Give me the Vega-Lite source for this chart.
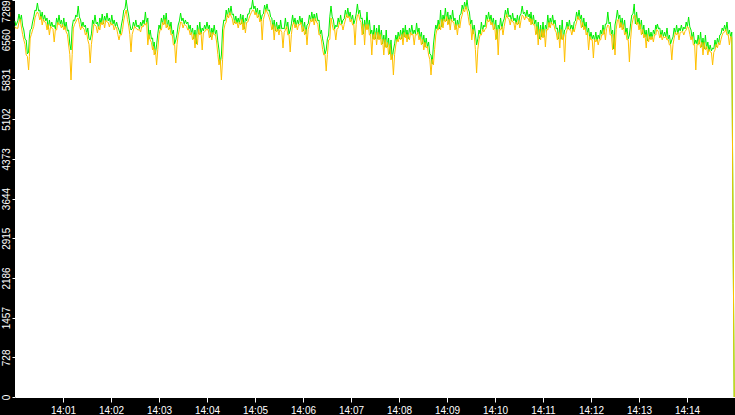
{
  "$schema": "https://vega.github.io/schema/vega-lite/v6.json",
  "width": 720,
  "height": 397,
  "autosize": {"type": "none"},
  "padding": {"left": 15, "top": 0, "right": 0, "bottom": 18},
  "background": "black",
  "config": {
    "view": {"fill": "white", "stroke": null},
    "axis": {
      "grid": false,
      "title": null,
      "labelColor": "white",
      "tickColor": "white",
      "domainColor": "white",
      "labelFont": "Liberation Sans",
      "labelFontSize": 10
    }
  },
  "data": {
    "values": [
      {"s":0,"g":6900,"o":6800},{"s":1,"g":6820,"o":6768},
      {"s":2,"g":6848,"o":6775},{"s":3.5,"g":6905,"o":6768},
      {"s":5,"g":7032,"o":6885},{"s":6.5,"g":6905,"o":6934},
      {"s":8,"g":7014,"o":6793},{"s":9.5,"g":6813,"o":6658},
      {"s":11,"g":6738,"o":6555},{"s":12.5,"g":6575,"o":6475},
      {"s":14,"g":6555,"o":6279},{"s":15.5,"g":6299,"o":6254},
      {"s":17,"g":6334,"o":6004},{"s":18,"g":6611,"o":6254},
      {"s":19,"g":6738,"o":6591},{"s":20.5,"g":6758,"o":6658},
      {"s":22,"g":6885,"o":6738},{"s":23.5,"g":6979,"o":6805},
      {"s":25,"g":7105,"o":6959},{"s":26.5,"g":7089,"o":7025},
      {"s":28,"g":7234,"o":7069},{"s":29.5,"g":7089,"o":7025},
      {"s":31,"g":7105,"o":6922},{"s":32.5,"g":6942,"o":6989},
      {"s":34,"g":7069,"o":6830},{"s":35.5,"g":6905,"o":6934},
      {"s":37,"g":7014,"o":6885},{"s":38.5,"g":6905,"o":6879},
      {"s":40,"g":6959,"o":6738},{"s":41.5,"g":6758,"o":6842},
      {"s":43,"g":6922,"o":6646},{"s":44.5,"g":6795,"o":6805},
      {"s":46,"g":6885,"o":6775},{"s":47.5,"g":6795,"o":6750},
      {"s":49,"g":6830,"o":6518},{"s":50.5,"g":6758,"o":6750},
      {"s":52,"g":6959,"o":6738},{"s":53.5,"g":6850,"o":6879},
      {"s":55,"g":7014,"o":6830},{"s":56.5,"g":6850,"o":6842},
      {"s":58,"g":6922,"o":6775},{"s":59.5,"g":6795,"o":6842},
      {"s":61,"g":6959,"o":6738},{"s":62.5,"g":6758,"o":6805},
      {"s":64,"g":6885,"o":6701},{"s":65.5,"g":6721,"o":6658},
      {"s":67,"g":6738,"o":6463},{"s":68.5,"g":6483,"o":6291},
      {"s":70,"g":6371,"o":5820},{"s":71.5,"g":6795,"o":6291},
      {"s":73,"g":6922,"o":6775},{"s":74.5,"g":6905,"o":6842},
      {"s":76,"g":7014,"o":6885},{"s":77.5,"g":6979,"o":6934},
      {"s":79,"g":7179,"o":6959},{"s":80.5,"g":6979,"o":6842},
      {"s":82,"g":6922,"o":6738},{"s":83.5,"g":6795,"o":6805},
      {"s":85,"g":6885,"o":6775},{"s":86.5,"g":6795,"o":6750},
      {"s":88,"g":6830,"o":6646},{"s":89.5,"g":6666,"o":6695},
      {"s":91,"g":6775,"o":6555},{"s":92.5,"g":6575,"o":6475},
      {"s":94,"g":6555,"o":6132},{"s":95.5,"g":6666,"o":6475},
      {"s":97,"g":6922,"o":6646},{"s":98.5,"g":6850,"o":6842},
      {"s":100,"g":7014,"o":6830},{"s":101.5,"g":6850,"o":6805},
      {"s":103,"g":6885,"o":6683},{"s":104.5,"g":6758,"o":6805},
      {"s":106,"g":6959,"o":6738},{"s":107.5,"g":6850,"o":6879},
      {"s":109,"g":7032,"o":6830},{"s":110.5,"g":6850,"o":6915},
      {"s":112,"g":6995,"o":6775},{"s":113.5,"g":6905,"o":6915},
      {"s":115,"g":7050,"o":6885},{"s":116.5,"g":6905,"o":6879},
      {"s":118,"g":6959,"o":6793},{"s":119.5,"g":6850,"o":6879},
      {"s":121,"g":7014,"o":6830},{"s":122.5,"g":6850,"o":6842},
      {"s":124,"g":6922,"o":6738},{"s":125.5,"g":6795,"o":6805},
      {"s":127,"g":6885,"o":6775},{"s":128.5,"g":6795,"o":6658},
      {"s":130,"g":6738,"o":6555},{"s":131.5,"g":6666,"o":6658},
      {"s":133,"g":6830,"o":6646},{"s":134.5,"g":6942,"o":6750},
      {"s":136,"g":7105,"o":6922},{"s":137.5,"g":7125,"o":7025},
      {"s":139,"g":7289,"o":7105},{"s":140.5,"g":7125,"o":6934},
      {"s":142,"g":7014,"o":6830},{"s":143.5,"g":6850,"o":6658},
      {"s":145,"g":6738,"o":6334},{"s":146.5,"g":6758,"o":6658},
      {"s":148,"g":6885,"o":6738},{"s":149.5,"g":6795,"o":6805},
      {"s":151,"g":6922,"o":6775},{"s":152.5,"g":6795,"o":6750},
      {"s":154,"g":6830,"o":6738},{"s":155.5,"g":6758,"o":6750},
      {"s":157,"g":6885,"o":6701},{"s":158.5,"g":6813,"o":6805},
      {"s":160,"g":6922,"o":6793},{"s":161.5,"g":6850,"o":6842},
      {"s":163,"g":7069,"o":6830},{"s":164.5,"g":6850,"o":6879},
      {"s":166,"g":6959,"o":6463},{"s":167.5,"g":6575,"o":6658},
      {"s":169,"g":6738,"o":6555},{"s":170.5,"g":6575,"o":6511},
      {"s":172,"g":6591,"o":6371},{"s":173,"g":6391,"o":6438},
      {"s":174,"g":6518,"o":6279},{"s":175.5,"g":6299,"o":6383},
      {"s":177,"g":6463,"o":6096},{"s":178.5,"g":6666,"o":6383},
      {"s":180,"g":6830,"o":6646},{"s":181.5,"g":6758,"o":6750},
      {"s":183,"g":6959,"o":6738},{"s":184.5,"g":6850,"o":6879},
      {"s":186,"g":7014,"o":6830},{"s":187.5,"g":6850,"o":6934},
      {"s":189,"g":7050,"o":6775},{"s":190.5,"g":6795,"o":6842},
      {"s":192,"g":6922,"o":6738},{"s":193.5,"g":6758,"o":6805},
      {"s":195,"g":6885,"o":6646},{"s":196.5,"g":6666,"o":6658},
      {"s":198,"g":6738,"o":6463},{"s":199.5,"g":6483,"o":6475},
      {"s":201,"g":6555,"o":6132},{"s":202.5,"g":6666,"o":6475},
      {"s":204,"g":6830,"o":6646},{"s":205.5,"g":6905,"o":6750},
      {"s":207,"g":7050,"o":6885},{"s":208.5,"g":6905,"o":6879},
      {"s":210,"g":6959,"o":6775},{"s":211.5,"g":6850,"o":6842},
      {"s":213,"g":6922,"o":6830},{"s":214.5,"g":6850,"o":6805},
      {"s":216,"g":6885,"o":6738},{"s":217.5,"g":6758,"o":6750},
      {"s":219,"g":6830,"o":6646},{"s":220.5,"g":6666,"o":6695},
      {"s":222,"g":6775,"o":6555},{"s":223.5,"g":6575,"o":6658},
      {"s":225,"g":6738,"o":6408},{"s":226.5,"g":6483,"o":6658},
      {"s":228,"g":6830,"o":6463},{"s":229.5,"g":6666,"o":6750},
      {"s":231,"g":6885,"o":6646},{"s":232.5,"g":6666,"o":6695},
      {"s":234,"g":6775,"o":6371},{"s":235.5,"g":6721,"o":6695},
      {"s":237,"g":6830,"o":6701},{"s":238.5,"g":6758,"o":6750},
      {"s":240,"g":6885,"o":6738},{"s":241.5,"g":6758,"o":6750},
      {"s":243,"g":6830,"o":6591},{"s":244.5,"g":6611,"o":6695},
      {"s":246,"g":6775,"o":6555},{"s":247.5,"g":6666,"o":6695},
      {"s":249,"g":6830,"o":6646},{"s":250.5,"g":6666,"o":6658},
      {"s":252,"g":6738,"o":6518},{"s":253.5,"g":6538,"o":6291},
      {"s":255,"g":6371,"o":6096},{"s":256.5,"g":6116,"o":6199},
      {"s":258,"g":6279,"o":5820},{"s":259.5,"g":6758,"o":6199},
      {"s":261,"g":6922,"o":6738},{"s":262.5,"g":6905,"o":6842},
      {"s":264,"g":7105,"o":6885},{"s":265.5,"g":6979,"o":7025},
      {"s":267,"g":7142,"o":6959},{"s":268.5,"g":7015,"o":7062},
      {"s":270,"g":7179,"o":6995},{"s":271.5,"g":7015,"o":6952},
      {"s":273,"g":7032,"o":6830},{"s":274.5,"g":6868,"o":6915},
      {"s":276,"g":6995,"o":6848},{"s":277.5,"g":6868,"o":6879},
      {"s":279,"g":6959,"o":6775},{"s":280.5,"g":6850,"o":6879},
      {"s":282,"g":7032,"o":6830},{"s":283.5,"g":6850,"o":6934},
      {"s":285,"g":7014,"o":6738},{"s":286.5,"g":6758,"o":6879},
      {"s":288,"g":6959,"o":6683},{"s":289.5,"g":6905,"o":6879},
      {"s":291,"g":7032,"o":6885},{"s":292.5,"g":7034,"o":6952},
      {"s":294,"g":7142,"o":7014},{"s":295.5,"g":7125,"o":7062},
      {"s":297,"g":7289,"o":7105},{"s":298.5,"g":7125,"o":7099},
      {"s":300,"g":7179,"o":7014},{"s":301.5,"g":7034,"o":7062},
      {"s":303,"g":7142,"o":6959},{"s":304.5,"g":6979,"o":7025},
      {"s":306,"g":7105,"o":6885},{"s":307.5,"g":6905,"o":6934},
      {"s":309,"g":7014,"o":6555},{"s":310.5,"g":7034,"o":6934},
      {"s":312,"g":7197,"o":7014},{"s":313.5,"g":7089,"o":7117},
      {"s":315,"g":7216,"o":7069},{"s":316.5,"g":7089,"o":7025},
      {"s":318,"g":7105,"o":6959},{"s":319.5,"g":6979,"o":6879},
      {"s":321,"g":6959,"o":6738},{"s":322.5,"g":6758,"o":6842},
      {"s":324,"g":6922,"o":6555},{"s":325.5,"g":6721,"o":6805},
      {"s":327,"g":6885,"o":6701},{"s":328.5,"g":6721,"o":6750},
      {"s":330,"g":6830,"o":6646},{"s":331,"g":6758,"o":6750},
      {"s":332,"g":6922,"o":6738},{"s":333.5,"g":6758,"o":6695},
      {"s":335,"g":6775,"o":6408},{"s":336.5,"g":6758,"o":6695},
      {"s":338,"g":6959,"o":6738},{"s":339.5,"g":6758,"o":6805},
      {"s":341,"g":6885,"o":6646},{"s":342.5,"g":6666,"o":6658},
      {"s":344,"g":6738,"o":6334},{"s":345.5,"g":6850,"o":6658},
      {"s":347,"g":7014,"o":6830},{"s":348.5,"g":6850,"o":6879},
      {"s":350,"g":6959,"o":6775},{"s":351.5,"g":6795,"o":6842},
      {"s":353,"g":6922,"o":6738},{"s":354.5,"g":6850,"o":6842},
      {"s":356,"g":6995,"o":6830},{"s":357.5,"g":6850,"o":6879},
      {"s":359,"g":6959,"o":6701},{"s":360.5,"g":6721,"o":6805},
      {"s":362,"g":6885,"o":6646},{"s":363.5,"g":6666,"o":6750},
      {"s":365,"g":6830,"o":6463},{"s":366.5,"g":6850,"o":6750},
      {"s":368,"g":7014,"o":6830},{"s":369.5,"g":6905,"o":6934},
      {"s":371,"g":7069,"o":6885},{"s":372.5,"g":6905,"o":6952},
      {"s":374,"g":7032,"o":6830},{"s":375.5,"g":6905,"o":6952},
      {"s":377,"g":7050,"o":6885},{"s":378.5,"g":6905,"o":6842},
      {"s":380,"g":6922,"o":6646},{"s":381.5,"g":6666,"o":6658},
      {"s":383,"g":6738,"o":6555},{"s":384.5,"g":6575,"o":6383},
      {"s":386,"g":6463,"o":6279},{"s":387.5,"g":6299,"o":6291},
      {"s":389,"g":6371,"o":5985},{"s":390.5,"g":6575,"o":6291},
      {"s":392,"g":6646,"o":6555},{"s":393.5,"g":6979,"o":6566},
      {"s":395,"g":7179,"o":6959},{"s":396.5,"g":6979,"o":6842},
      {"s":398,"g":6922,"o":6738},{"s":399.5,"g":6758,"o":6750},
      {"s":401,"g":6830,"o":6555},{"s":402.5,"g":6795,"o":6750},
      {"s":404,"g":6959,"o":6775},{"s":405.5,"g":6850,"o":6879},
      {"s":407,"g":7014,"o":6830},{"s":408.5,"g":6850,"o":6842},
      {"s":410,"g":6922,"o":6738},{"s":411.5,"g":6942,"o":6842},
      {"s":413,"g":7105,"o":6922},{"s":414.5,"g":6979,"o":7025},
      {"s":416,"g":7142,"o":6959},{"s":417.5,"g":6979,"o":6989},
      {"s":419,"g":7069,"o":6885},{"s":420.5,"g":6905,"o":6934},
      {"s":422,"g":7014,"o":6830},{"s":423.5,"g":6850,"o":6842},
      {"s":425,"g":6922,"o":6463},{"s":426.5,"g":7034,"o":6842},
      {"s":428,"g":7216,"o":7014},{"s":429.5,"g":7034,"o":7025},
      {"s":431,"g":7105,"o":6922},{"s":432.5,"g":6942,"o":6879},
      {"s":434,"g":6959,"o":6646},{"s":435.5,"g":6666,"o":6842},
      {"s":437,"g":6922,"o":6463},{"s":438.5,"g":6758,"o":6842},
      {"s":440,"g":7069,"o":6738},{"s":441.5,"g":6758,"o":6842},
      {"s":443,"g":6922,"o":6646},{"s":444.5,"g":6666,"o":6658},
      {"s":446,"g":6738,"o":6279},{"s":447.5,"g":6575,"o":6658},
      {"s":449,"g":6830,"o":6555},{"s":450.5,"g":6575,"o":6695},
      {"s":452,"g":6775,"o":6463},{"s":453.5,"g":6575,"o":6695},
      {"s":455,"g":6830,"o":6555},{"s":456.5,"g":6575,"o":6658},
      {"s":458,"g":6738,"o":6463},{"s":459.5,"g":6483,"o":6566},
      {"s":461,"g":6646,"o":6279},{"s":462.5,"g":6428,"o":6566},
      {"s":464,"g":6738,"o":6408},{"s":465.5,"g":6428,"o":6511},
      {"s":467,"g":6591,"o":6279},{"s":468.5,"g":6299,"o":6475},
      {"s":470,"g":6555,"o":6188},{"s":471.5,"g":6208,"o":6291},
      {"s":473,"g":6371,"o":5912},{"s":474.5,"g":6483,"o":6291},
      {"s":476,"g":6646,"o":6463},{"s":477.5,"g":6538,"o":6566},
      {"s":479,"g":6701,"o":6518},{"s":480.5,"g":6575,"o":6621},
      {"s":482,"g":6738,"o":6555},{"s":483.5,"g":6575,"o":6658},
      {"s":485,"g":6775,"o":6463},{"s":486.5,"g":6611,"o":6695},
      {"s":488,"g":6830,"o":6591},{"s":489,"g":6611,"o":6658},
      {"s":490,"g":6738,"o":6518},{"s":491.5,"g":6575,"o":6658},
      {"s":493,"g":6775,"o":6555},{"s":494.5,"g":6666,"o":6695},
      {"s":496,"g":6830,"o":6646},{"s":497.5,"g":6666,"o":6658},
      {"s":499,"g":6738,"o":6463},{"s":500.5,"g":6666,"o":6658},
      {"s":502,"g":6867,"o":6646},{"s":503.5,"g":6666,"o":6695},
      {"s":505,"g":6775,"o":6555},{"s":506.5,"g":6575,"o":6621},
      {"s":508,"g":6701,"o":6463},{"s":509.5,"g":6483,"o":6566},
      {"s":511,"g":6646,"o":6371},{"s":512.5,"g":6428,"o":6511},
      {"s":514,"g":6591,"o":6408},{"s":515.5,"g":6428,"o":6438},
      {"s":517,"g":6518,"o":6279},{"s":518.5,"g":6299,"o":6199},
      {"s":520,"g":6279,"o":5912},{"s":521.5,"g":6116,"o":6199},
      {"s":523,"g":6463,"o":6096},{"s":524.5,"g":6666,"o":6383},
      {"s":526,"g":6830,"o":6646},{"s":527.5,"g":6758,"o":6750},
      {"s":529,"g":6922,"o":6738},{"s":530.5,"g":6758,"o":6842},
      {"s":532,"g":7105,"o":6738},{"s":533.5,"g":6795,"o":6934},
      {"s":535,"g":7014,"o":6775},{"s":536.5,"g":6905,"o":6934},
      {"s":538,"g":7142,"o":6885},{"s":539.5,"g":6905,"o":6989},
      {"s":541,"g":7069,"o":6830},{"s":542.5,"g":6850,"o":6934},
      {"s":544,"g":7014,"o":6738},{"s":545.5,"g":6905,"o":6934},
      {"s":547,"g":7105,"o":6885},{"s":548.5,"g":6905,"o":6879},
      {"s":550,"g":6959,"o":6738},{"s":551.5,"g":6758,"o":6842},
      {"s":553,"g":6922,"o":6646},{"s":554.5,"g":6795,"o":6842},
      {"s":556,"g":7014,"o":6775},{"s":557.5,"g":7034,"o":6934},
      {"s":559,"g":7197,"o":7014},{"s":560.5,"g":7089,"o":7117},
      {"s":562,"g":7252,"o":7069},{"s":563.5,"g":7125,"o":7172},
      {"s":565,"g":7289,"o":7105},{"s":566.5,"g":7125,"o":6989},
      {"s":568,"g":7069,"o":6830},{"s":569.5,"g":6850,"o":6842},
      {"s":571,"g":6922,"o":6555},{"s":572.5,"g":6666,"o":6750},
      {"s":574,"g":6830,"o":6646},{"s":575.5,"g":6666,"o":6383},
      {"s":577,"g":6463,"o":5949},{"s":578.5,"g":6575,"o":6383},
      {"s":580,"g":6738,"o":6555},{"s":581.5,"g":6666,"o":6658},
      {"s":583,"g":6885,"o":6646},{"s":584.5,"g":6721,"o":6750},
      {"s":586,"g":6830,"o":6701},{"s":587.5,"g":6795,"o":6750},
      {"s":589,"g":7014,"o":6775},{"s":590.5,"g":6905,"o":6934},
      {"s":592,"g":7069,"o":6885},{"s":593.5,"g":6905,"o":6934},
      {"s":595,"g":7014,"o":6830},{"s":596.5,"g":6850,"o":6879},
      {"s":598,"g":6959,"o":6738},{"s":599.5,"g":6758,"o":6842},
      {"s":601,"g":6922,"o":6555},{"s":602.5,"g":6575,"o":6750},
      {"s":604,"g":6830,"o":6279},{"s":605.5,"g":6758,"o":6750},
      {"s":607,"g":6959,"o":6738},{"s":608.5,"g":6758,"o":6805},
      {"s":610,"g":6885,"o":6646},{"s":611.5,"g":6942,"o":6805},
      {"s":613,"g":7105,"o":6922},{"s":614.5,"g":6979,"o":7025},
      {"s":616,"g":7142,"o":6959},{"s":617.5,"g":6979,"o":6934},
      {"s":619,"g":7014,"o":6830},{"s":620.5,"g":6905,"o":6934},
      {"s":622,"g":7050,"o":6885},{"s":623.5,"g":6905,"o":6879},
      {"s":625,"g":6959,"o":6738},{"s":626.5,"g":6850,"o":6879},
      {"s":628,"g":7014,"o":6830},{"s":629.5,"g":6850,"o":6915},
      {"s":631,"g":6995,"o":6775},{"s":632.5,"g":7034,"o":6915},
      {"s":634,"g":7179,"o":7014},{"s":635.5,"g":7034,"o":6989},
      {"s":637,"g":7069,"o":6922},{"s":638.5,"g":6979,"o":6989},
      {"s":640,"g":7105,"o":6959},{"s":641.5,"g":6979,"o":6952},
      {"s":643,"g":7032,"o":6885},{"s":644,"g":6905,"o":6952},
      {"s":645,"g":7069,"o":6830},{"s":646.5,"g":6850,"o":6934},
      {"s":648,"g":7014,"o":6830},{"s":649.5,"g":6850,"o":6842},
      {"s":651,"g":6922,"o":6646},{"s":652.5,"g":6666,"o":6805},
      {"s":654,"g":6885,"o":6463},{"s":655.5,"g":6575,"o":6750},
      {"s":657,"g":6830,"o":6555},{"s":658.5,"g":6611,"o":6750},
      {"s":660,"g":6885,"o":6591},{"s":661.5,"g":6611,"o":6750},
      {"s":663,"g":6830,"o":6426},{"s":664.5,"g":6758,"o":6750},
      {"s":666,"g":7014,"o":6738},{"s":667.5,"g":6795,"o":6879},
      {"s":669,"g":6959,"o":6775},{"s":670.5,"g":6850,"o":6879},
      {"s":672,"g":7014,"o":6830},{"s":673.5,"g":6850,"o":6842},
      {"s":675,"g":6922,"o":6738},{"s":676.5,"g":6758,"o":6695},
      {"s":678,"g":6775,"o":6555},{"s":679.5,"g":6575,"o":6695},
      {"s":681,"g":6830,"o":6408},{"s":682.5,"g":6575,"o":6750},
      {"s":684,"g":6922,"o":6555},{"s":685.5,"g":6575,"o":6658},
      {"s":687,"g":6738,"o":6151},{"s":688.5,"g":6758,"o":6658},
      {"s":690,"g":6885,"o":6738},{"s":691.5,"g":6758,"o":6805},
      {"s":693,"g":6922,"o":6738},{"s":694.5,"g":6758,"o":6750},
      {"s":696,"g":6830,"o":6646},{"s":697.5,"g":6721,"o":6750},
      {"s":699,"g":6885,"o":6701},{"s":700.5,"g":6905,"o":6805},
      {"s":702,"g":7069,"o":6885},{"s":703.5,"g":6942,"o":6989},
      {"s":705,"g":7105,"o":6922},{"s":706.5,"g":6942,"o":6934},
      {"s":708,"g":7014,"o":6775},{"s":709.5,"g":6795,"o":6879},
      {"s":711,"g":6959,"o":6738},{"s":712.5,"g":6758,"o":6805},
      {"s":714,"g":6885,"o":6646},{"s":715.5,"g":6666,"o":6695},
      {"s":717,"g":6775,"o":6371},{"s":718.5,"g":6575,"o":6621},
      {"s":720,"g":6701,"o":6555},{"s":721.5,"g":6575,"o":6566},
      {"s":723,"g":6646,"o":6224},{"s":724.5,"g":6538,"o":6566},
      {"s":726,"g":6701,"o":6518},{"s":727.5,"g":6538,"o":6566},
      {"s":729,"g":6646,"o":6463},{"s":730.5,"g":6575,"o":6566},
      {"s":732,"g":6738,"o":6555},{"s":733.5,"g":6666,"o":6658},
      {"s":735,"g":6830,"o":6646},{"s":736.5,"g":6666,"o":6750},
      {"s":738,"g":6848,"o":6555},{"s":739.5,"g":6850,"o":6768},
      {"s":741,"g":7069,"o":6830},{"s":742.5,"g":6850,"o":6805},
      {"s":744,"g":6885,"o":6646},{"s":745.5,"g":6666,"o":6658},
      {"s":747,"g":6738,"o":6371},{"s":748.5,"g":6391,"o":6658},
      {"s":750,"g":6830,"o":6279},{"s":751.5,"g":6942,"o":6750},
      {"s":753,"g":7105,"o":6922},{"s":754.5,"g":6942,"o":6934},
      {"s":756,"g":7014,"o":6775},{"s":757.5,"g":6795,"o":6879},
      {"s":759,"g":6959,"o":6738},{"s":760.5,"g":6758,"o":6842},
      {"s":762,"g":6922,"o":6646},{"s":763.5,"g":6666,"o":6695},
      {"s":765,"g":6775,"o":6555},{"s":766.5,"g":6575,"o":6566},
      {"s":768,"g":6646,"o":6151},{"s":769.5,"g":6850,"o":6566},
      {"s":771,"g":7014,"o":6830},{"s":772.5,"g":7034,"o":6934},
      {"s":774,"g":7216,"o":7014},{"s":775.5,"g":6850,"o":6989},
      {"s":777,"g":7069,"o":6830},{"s":778.5,"g":6850,"o":6879},
      {"s":780,"g":6959,"o":6738},{"s":781.5,"g":6758,"o":6842},
      {"s":783,"g":6922,"o":6646},{"s":784.5,"g":6666,"o":6750},
      {"s":786,"g":6830,"o":6591},{"s":787.5,"g":6611,"o":6658},
      {"s":789,"g":6738,"o":6408},{"s":790.5,"g":6538,"o":6658},
      {"s":792,"g":6775,"o":6518},{"s":793.5,"g":6575,"o":6621},
      {"s":795,"g":6701,"o":6555},{"s":796.5,"g":6575,"o":6621},
      {"s":798,"g":6738,"o":6518},{"s":799.5,"g":6666,"o":6658},
      {"s":801,"g":6830,"o":6646},{"s":802,"g":6758,"o":6750},
      {"s":803,"g":6848,"o":6738},{"s":804.5,"g":6758,"o":6695},
      {"s":806,"g":6775,"o":6591},{"s":807.5,"g":6611,"o":6658},
      {"s":809,"g":6738,"o":6555},{"s":810.5,"g":6611,"o":6621},
      {"s":812,"g":6701,"o":6591},{"s":813.5,"g":6611,"o":6621},
      {"s":815,"g":6775,"o":6555},{"s":816.5,"g":6575,"o":6566},
      {"s":818,"g":6646,"o":6463},{"s":819.5,"g":6483,"o":6475},
      {"s":821,"g":6555,"o":6188},{"s":822.5,"g":6611,"o":6475},
      {"s":824,"g":6775,"o":6591},{"s":825.5,"g":6666,"o":6695},
      {"s":827,"g":6830,"o":6646},{"s":828.5,"g":6666,"o":6695},
      {"s":830,"g":6775,"o":6555},{"s":831.5,"g":6721,"o":6695},
      {"s":833,"g":6830,"o":6701},{"s":834.5,"g":6721,"o":6713},
      {"s":836,"g":6793,"o":6646},{"s":837.5,"g":6758,"o":6713},
      {"s":839,"g":6885,"o":6738},{"s":840.5,"g":6795,"o":6805},
      {"s":842,"g":6977,"o":6775},{"s":843.5,"g":6795,"o":6658},
      {"s":845,"g":6738,"o":6555},{"s":846.5,"g":6575,"o":6621},
      {"s":848,"g":6701,"o":6463},{"s":849.5,"g":6483,"o":6475},
      {"s":851,"g":6555,"o":6004},{"s":852.5,"g":6483,"o":6475},
      {"s":854,"g":6646,"o":6463},{"s":855.5,"g":6483,"o":6566},
      {"s":857,"g":6701,"o":6408},{"s":858.5,"g":6428,"o":6511},
      {"s":860,"g":6591,"o":6279},{"s":861.5,"g":6391,"o":6511},
      {"s":863,"g":6646,"o":6371},{"s":864.5,"g":6391,"o":6438},
      {"s":866,"g":6518,"o":6279},{"s":867.5,"g":6354,"o":6383},
      {"s":869,"g":6463,"o":6334},{"s":870.5,"g":6354,"o":6328},
      {"s":872,"g":6408,"o":6096},{"s":873.5,"g":6391,"o":6328},
      {"s":875,"g":6555,"o":6371},{"s":876.5,"g":6428,"o":6475},
      {"s":878,"g":6591,"o":6408},{"s":879.5,"g":6483,"o":6511},
      {"s":881,"g":6646,"o":6463},{"s":882.5,"g":6666,"o":6566},
      {"s":884,"g":6775,"o":6646},{"s":885.5,"g":6721,"o":6695},
      {"s":887,"g":6830,"o":6701},{"s":888.5,"g":6721,"o":6750},
      {"s":890,"g":6885,"o":6646},{"s":891.5,"g":6666,"o":6658},
      {"s":893,"g":6738,"o":6463},{"s":894.5,"g":6620,"o":6620},
      {"s":896,"g":6700,"o":6600},
      {"s":897.5,"g":3190,"o":3190},
      {"s":899,"g":0,"o":0}
    ]
  },
  "transform": [
    {"fold": ["g", "o"], "as": ["series", "value"]}
  ],
  "mark": {"type": "line", "strokeWidth": 1},
  "encoding": {
    "x": {
      "field": "s",
      "type": "quantitative",
      "scale": {"domain": [0, 900], "nice": false, "zero": false},
      "axis": {
        "values": [60, 120, 180, 240, 300, 360, 420, 480, 540, 600, 660, 720, 780, 840],
        "labelExpr": "'14:' + (datum.value < 600 ? '0' : '') + (datum.value / 60)",
        "tickSize": 5,
        "labelPadding": 3,
        "labelAngle": 0,
        "labelOverlap": false
      }
    },
    "y": {
      "field": "value",
      "type": "quantitative",
      "scale": {"domain": [0, 7289], "nice": false},
      "axis": {
        "values": [0, 728, 1457, 2186, 2915, 3644, 4373, 5102, 5831, 6560, 7289],
        "format": "d",
        "labelAngle": 270,
        "labelAlign": "center",
        "labelBaseline": "bottom",
        "labelPadding": 1,
        "labelOverlap": false,
        "tickSize": 3,
        "domain": false,
        "labelOffset": {"condition": {"test": "datum.value == 7289", "value": 11}, "value": 0}
      }
    },
    "color": {
      "field": "series",
      "type": "nominal",
      "scale": {"domain": ["g", "o"], "range": ["#00ee00", "#ffc000"]},
      "legend": null
    }
  }
}
